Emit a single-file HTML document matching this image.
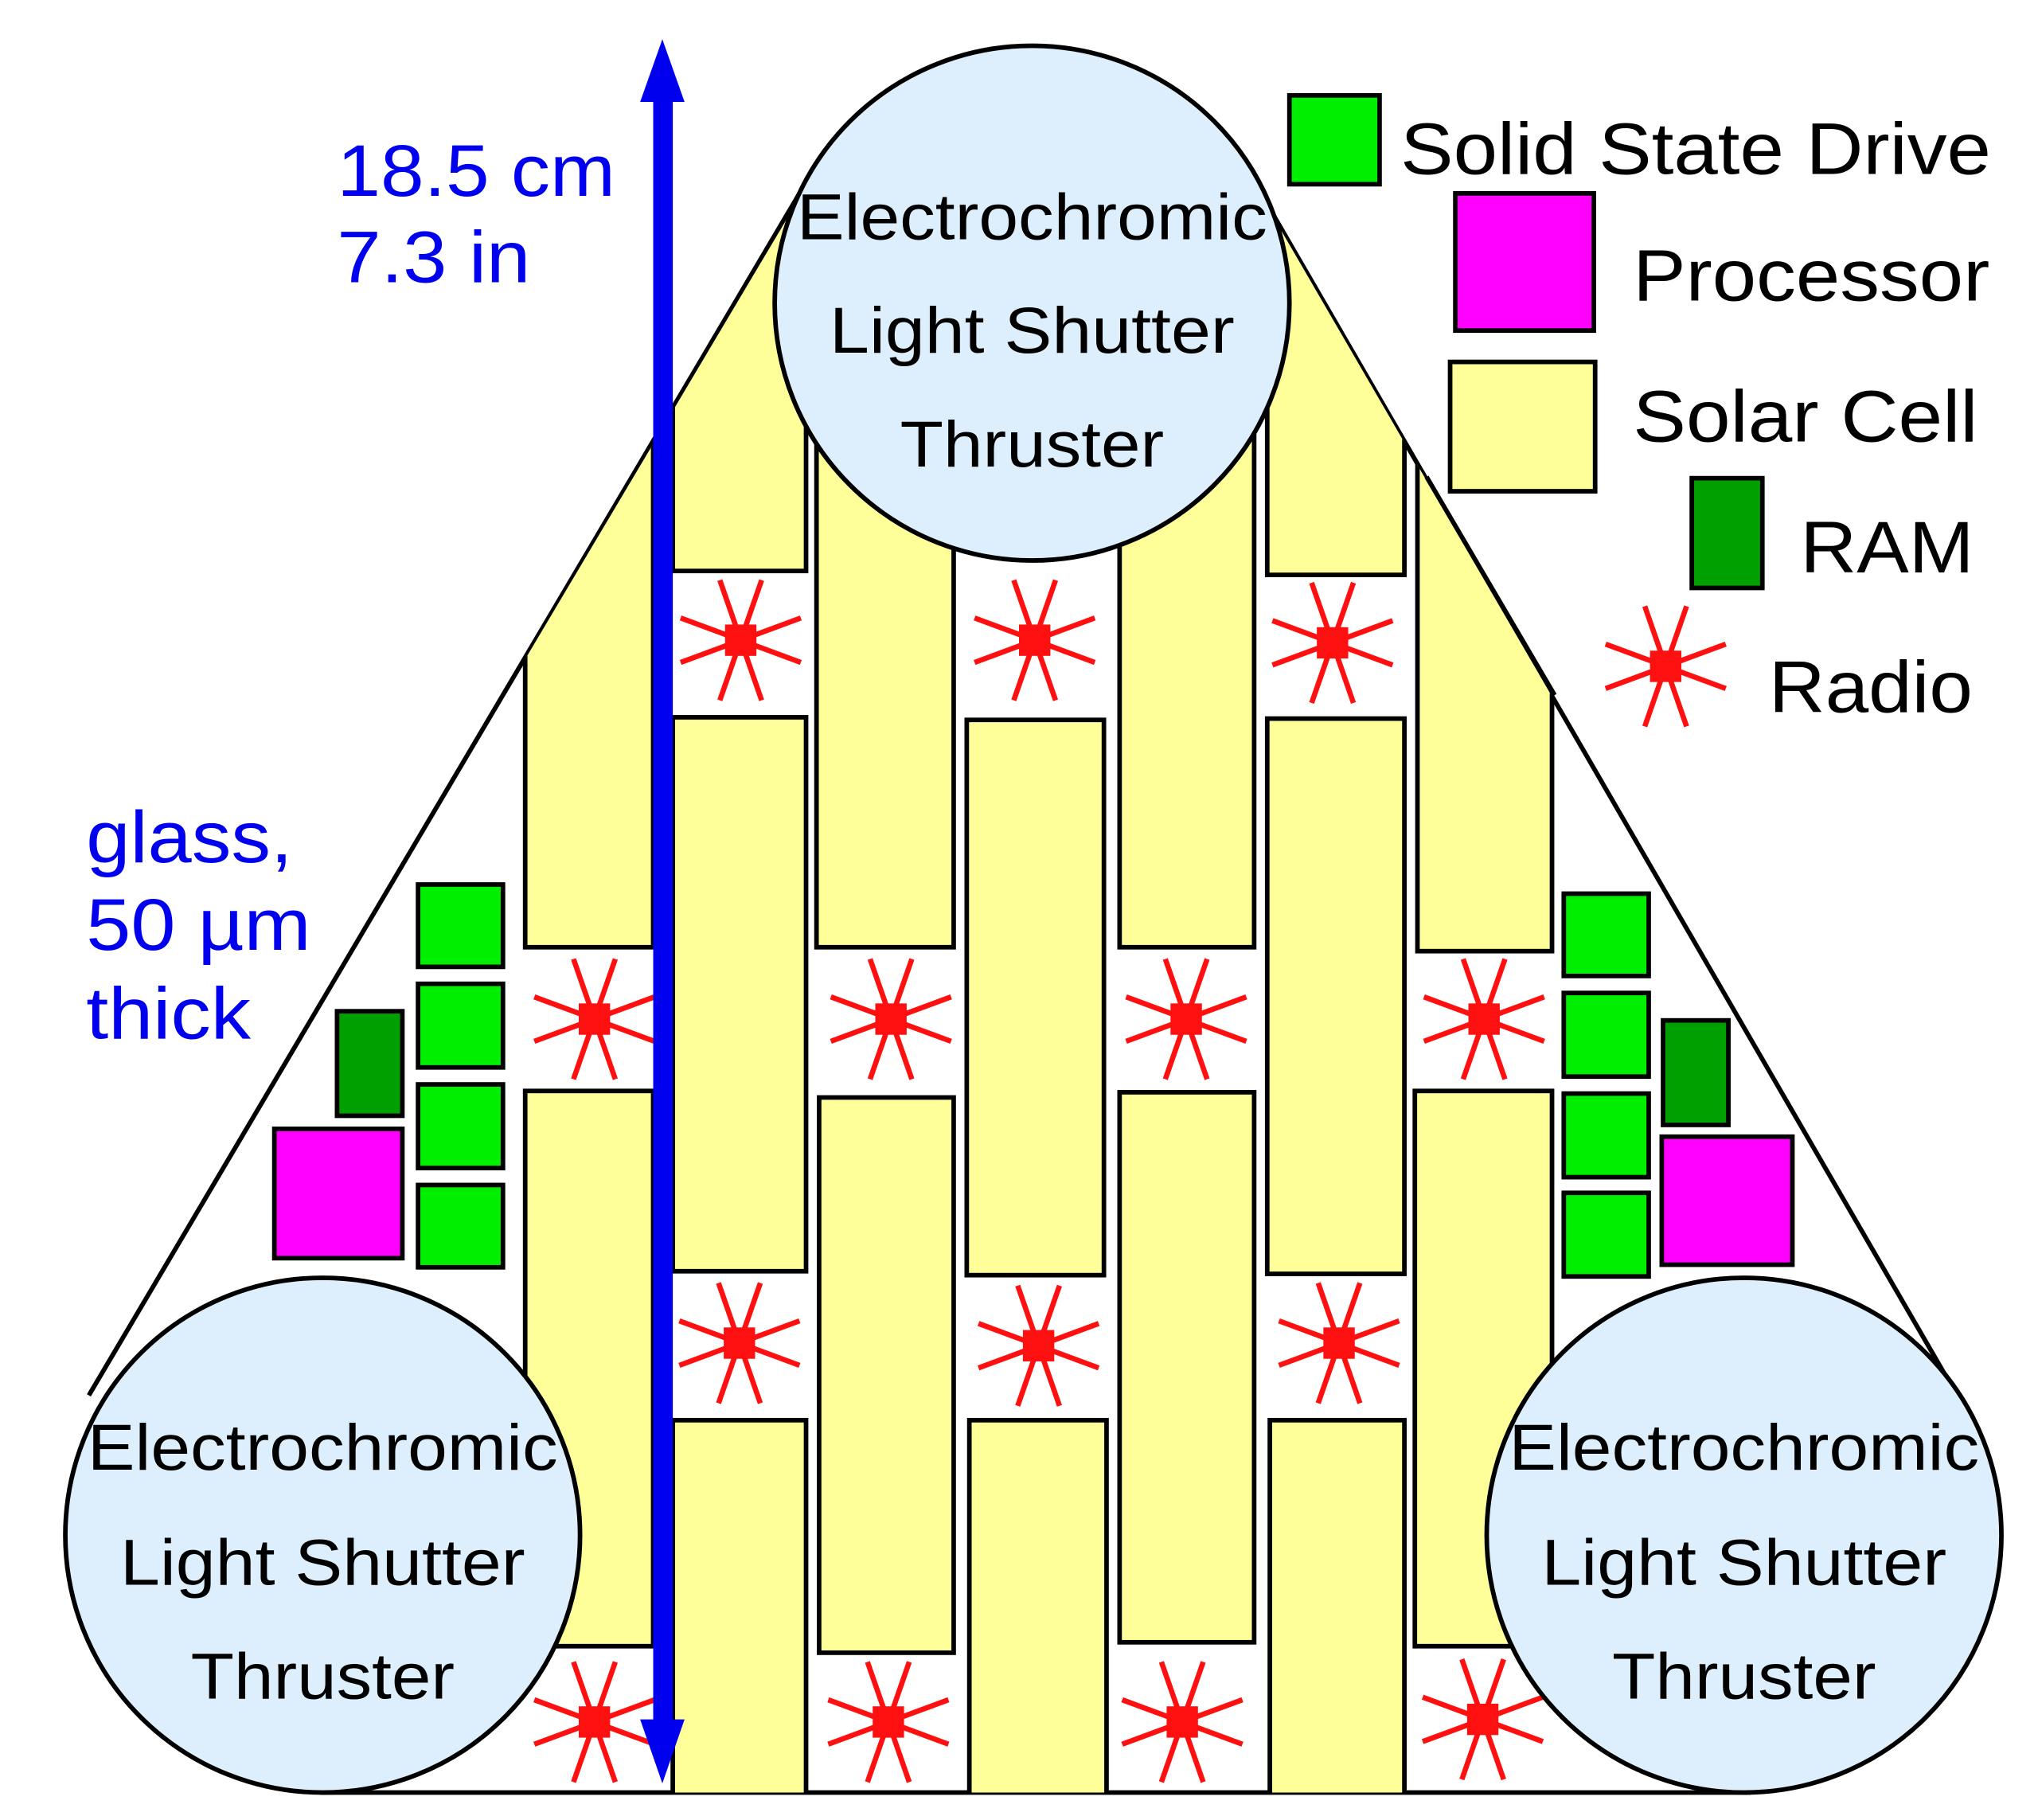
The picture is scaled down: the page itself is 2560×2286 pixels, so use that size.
<!DOCTYPE html>
<html><head><meta charset="utf-8"><style>
html,body{margin:0;padding:0;background:#fff;}
svg{display:block;}
text{font-family:"Liberation Sans",sans-serif;}
</style></head><body>
<svg width="2560" height="2286" viewBox="0 0 1560 1393" xmlns="http://www.w3.org/2000/svg">
<defs>
<clipPath id="tri"><polygon points="791,-150 1500,1070 1500,1372 60,1372 60,1080"/></clipPath>
<g id="rad" stroke="#ff1010" stroke-width="4">
<line x1="-46" y1="-17" x2="46" y2="17"/><line x1="-46" y1="17" x2="46" y2="-17"/>
<line x1="-16" y1="-46" x2="16" y2="46"/><line x1="16" y1="-46" x2="-16" y2="46"/>
<rect x="-12" y="-12" width="24" height="24" fill="#ff1010" stroke="none"/>
</g>
</defs>
<rect width="1560" height="1393" fill="#fff"/>
<g stroke="#000" stroke-width="3.5">
<line x1="612" y1="148" x2="68" y2="1068"/>
<line x1="975" y1="165" x2="1498" y2="1068"/>
<line x1="245" y1="1372" x2="1340" y2="1372"/>
</g>
<g clip-path="url(#tri)" fill="#ffff99" stroke="#000" stroke-width="3.5">
<rect x="402" y="300" width="98" height="425"/><rect x="402" y="835" width="98" height="425"/>
<rect x="515" y="150" width="102" height="287"/><rect x="515" y="549" width="102" height="424"/><rect x="515" y="1087" width="102" height="300"/>
<rect x="625" y="300" width="105" height="425"/><rect x="627" y="840" width="103" height="425"/>
<rect x="740" y="300" width="105" height="120"/><rect x="740" y="551" width="105" height="425"/><rect x="742" y="1087" width="105" height="300"/>
<rect x="857" y="300" width="103" height="425"/><rect x="857" y="836" width="103" height="421"/>
<rect x="970" y="150" width="105" height="290"/><rect x="970" y="550" width="105" height="425"/><rect x="972" y="1087" width="103" height="300"/>
<rect x="1085" y="300" width="103" height="428"/><rect x="1083" y="835" width="105" height="425"/>
</g>
<line x1="1092" y1="365" x2="1190" y2="532" stroke="#000" stroke-width="3.5"/>
<use href="#rad" x="567" y="490"/><use href="#rad" x="792" y="490"/><use href="#rad" x="1020" y="492"/>
<use href="#rad" x="455" y="780"/><use href="#rad" x="682" y="780"/><use href="#rad" x="908" y="780"/><use href="#rad" x="1136" y="780"/>
<use href="#rad" x="566" y="1028"/><use href="#rad" x="795" y="1030"/><use href="#rad" x="1025" y="1028"/>
<use href="#rad" x="455" y="1318"/><use href="#rad" x="680" y="1318"/><use href="#rad" x="905" y="1318"/><use href="#rad" x="1135" y="1316"/>
<use href="#rad" x="1275" y="510"/>
<g stroke="#000" stroke-width="3.5">
<g fill="#00ee00">
<rect x="320" y="677" width="65" height="63"/><rect x="320" y="753" width="65" height="64"/><rect x="320" y="830" width="65" height="64"/><rect x="320" y="907" width="65" height="63"/>
<rect x="1197" y="684" width="65" height="63"/><rect x="1197" y="760" width="65" height="64"/><rect x="1197" y="837" width="65" height="64"/><rect x="1197" y="913" width="65" height="64"/>
<rect x="987" y="73" width="69" height="68"/>
</g>
<g fill="#00a000">
<rect x="258" y="774" width="50" height="80"/><rect x="1273" y="781" width="50" height="80"/><rect x="1295" y="366" width="54" height="84"/>
</g>
<g fill="#ff00ff">
<rect x="210" y="864" width="98" height="99"/><rect x="1272" y="870" width="100" height="98"/><rect x="1114" y="148" width="106" height="105"/>
</g>
<rect x="1110" y="277" width="111" height="99" fill="#ffff99"/>
</g>
<g fill="#ddeefc" stroke="#000" stroke-width="3.5">
<circle cx="790" cy="232" r="197"/><circle cx="247" cy="1175" r="197"/><circle cx="1335" cy="1175" r="197"/>
</g>
<g font-size="50" text-anchor="middle" fill="#000">
<text x="790" y="183" textLength="360" lengthAdjust="spacingAndGlyphs">Electrochromic</text>
<text x="790" y="270" textLength="310" lengthAdjust="spacingAndGlyphs">Light Shutter</text>
<text x="790" y="357" textLength="202" lengthAdjust="spacingAndGlyphs">Thruster</text>
<text x="247" y="1125" textLength="360" lengthAdjust="spacingAndGlyphs">Electrochromic</text>
<text x="247" y="1213" textLength="310" lengthAdjust="spacingAndGlyphs">Light Shutter</text>
<text x="247" y="1300" textLength="202" lengthAdjust="spacingAndGlyphs">Thruster</text>
<text x="1335" y="1125" textLength="360" lengthAdjust="spacingAndGlyphs">Electrochromic</text>
<text x="1335" y="1213" textLength="310" lengthAdjust="spacingAndGlyphs">Light Shutter</text>
<text x="1335" y="1300" textLength="202" lengthAdjust="spacingAndGlyphs">Thruster</text>
</g>
<g font-size="56" fill="#000">
<text x="1072" y="133" textLength="452" lengthAdjust="spacingAndGlyphs">Solid State Drive</text>
<text x="1250" y="230" textLength="273" lengthAdjust="spacingAndGlyphs">Processor</text>
<text x="1250" y="338" textLength="264" lengthAdjust="spacingAndGlyphs">Solar Cell</text>
<text x="1378" y="438" textLength="133" lengthAdjust="spacingAndGlyphs">RAM</text>
<text x="1354" y="545" textLength="156" lengthAdjust="spacingAndGlyphs">Radio</text>
</g>
<rect x="500" y="70" width="15" height="1250" fill="#0000ee"/>
<polygon points="490,78 507,30 524,78" fill="#0000ee"/>
<polygon points="490,1316 507,1365 524,1316" fill="#0000ee"/>
<g font-size="56" fill="#0000ee">
<text x="258" y="150" textLength="213" lengthAdjust="spacingAndGlyphs">18.5 cm</text>
<text x="258" y="216" textLength="148" lengthAdjust="spacingAndGlyphs">7.3 in</text>
<text x="66" y="660" textLength="158" lengthAdjust="spacingAndGlyphs">glass,</text>
<text x="66" y="727" textLength="172" lengthAdjust="spacingAndGlyphs">50 µm</text>
<text x="66" y="795" textLength="126" lengthAdjust="spacingAndGlyphs">thick</text>
</g>
</svg>
</body></html>
